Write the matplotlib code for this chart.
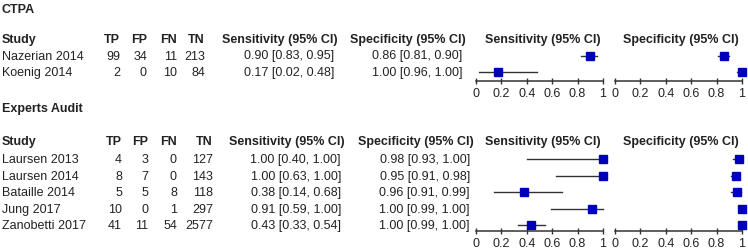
import matplotlib
matplotlib.use("Agg")
import matplotlib.pyplot as plt

plt.rcParams['font.family'] = ['Liberation Sans', 'DejaVu Sans']

# CTPA data
ctpa_study = ['Nazerian 2014', 'Koenig 2014']
ctpa_tp = [99, 2]
ctpa_fp = [34, 0]
ctpa_fn = [11, 10]
ctpa_tn = [213, 84]
ctpa_sens = [0.90, 0.17]
ctpa_sens_lo = [0.83, 0.02]
ctpa_sens_hi = [0.95, 0.48]
ctpa_spec = [0.86, 1.00]
ctpa_spec_lo = [0.81, 0.96]
ctpa_spec_hi = [0.90, 1.00]

# Experts Audit data
ea_study = ['Laursen 2013', 'Laursen 2014', 'Bataille 2014', 'Jung 2017', 'Zanobetti 2017']
ea_tp = [4, 8, 5, 10, 41]
ea_fp = [3, 7, 5, 0, 11]
ea_fn = [0, 0, 8, 1, 54]
ea_tn = [127, 143, 118, 297, 2577]
ea_sens = [1.00, 1.00, 0.38, 0.91, 0.43]
ea_sens_lo = [0.40, 0.63, 0.14, 0.59, 0.33]
ea_sens_hi = [1.00, 1.00, 0.68, 1.00, 0.54]
ea_spec = [0.98, 0.95, 0.96, 1.00, 1.00]
ea_spec_lo = [0.93, 0.91, 0.91, 0.99, 0.99]
ea_spec_hi = [1.00, 0.98, 0.99, 1.00, 1.00]

tick_vals = [0, 0.2, 0.4, 0.6, 0.8, 1]
tick_labels = ['0', '0.2', '0.4', '0.6', '0.8', '1']

W, H = 748, 251
TXT = '#222222'
BLUE = '#0000bb'
LINE = '#333333'
FS = 9

fig = plt.figure(figsize=(W / 100, H / 100), dpi=100)


def fx(px):
    return px / W


def fy(py):
    return 1 - py / H


def txt(x, y, s, ha='left', bold=False):
    fig.text(fx(x), fy(y), s, ha=ha, va='center', fontsize=FS, color=TXT,
             fontweight='bold' if bold else 'normal')


def forest(left, right, top_px, bottom_px, row0, step, est, lo, hi):
    n = len(est)
    ax = fig.add_axes([fx(left), fy(bottom_px), fx(right - left), (bottom_px - top_px) / H])
    for i in range(n):
        ax.plot([lo[i], hi[i]], [i, i], color=LINE, lw=1, clip_on=False)
        ax.plot(est[i], i, marker='s', ms=6, color=BLUE, clip_on=False)
    ax.set_xlim(0, 1)
    ax.set_ylim((bottom_px - row0) / step, (top_px - row0) / step)
    for s in ['top', 'right', 'left']:
        ax.spines[s].set_visible(False)
    ax.spines['bottom'].set_color(LINE)
    ax.spines['bottom'].set_linewidth(1.1)
    ax.set_yticks([])
    ax.set_xticks(tick_vals)
    ax.set_xticklabels(tick_labels)
    ax.tick_params(axis='x', direction='inout', length=5, width=1, color=LINE,
                   labelsize=FS, labelcolor=TXT, pad=1.5)
    ax.patch.set_visible(False)
    return ax


def section(title, title_y, head_y, row0, step, cols, study, tp, fp, fn, tn,
            sens, sens_lo, sens_hi, spec, spec_lo, spec_hi, axis_y):
    txt(2, title_y, title, bold=True)
    txt(2, head_y, 'Study', bold=True)
    txt(cols[0], head_y, 'TP', ha='right', bold=True)
    txt(cols[1], head_y, 'FP', ha='right', bold=True)
    txt(cols[2], head_y, 'FN', ha='right', bold=True)
    txt(cols[3], head_y, 'TN', ha='right', bold=True)
    txt(cols[4], head_y, 'Sensitivity (95% CI)', ha='right', bold=True)
    txt(cols[5], head_y, 'Specificity (95% CI)', ha='right', bold=True)
    txt(543, head_y, 'Sensitivity (95% CI)', ha='center', bold=True)
    txt(681, head_y, 'Specificity (95% CI)', ha='center', bold=True)
    for i in range(len(study)):
        y = row0 + i * step
        txt(2, y, study[i])
        txt(cols[0], y, str(tp[i]), ha='right')
        txt(cols[1], y, str(fp[i]), ha='right')
        txt(cols[2], y, str(fn[i]), ha='right')
        txt(cols[3], y, str(tn[i]), ha='right')
        txt(cols[4] - 4, y, f'{sens[i]:.2f} [{sens_lo[i]:.2f}, {sens_hi[i]:.2f}]', ha='right')
        txt(cols[5] - 4, y, f'{spec[i]:.2f} [{spec_lo[i]:.2f}, {spec_hi[i]:.2f}]', ha='right')
    forest(476, 603, head_y + 8, axis_y, row0, step, sens, sens_lo, sens_hi)
    forest(615, 742, head_y + 8, axis_y, row0, step, spec, spec_lo, spec_hi)


section('CTPA', 10, 40, 56.5, 16.8, [120, 147, 177, 205, 338, 466],
        ctpa_study, ctpa_tp, ctpa_fp, ctpa_fn, ctpa_tn,
        ctpa_sens, ctpa_sens_lo, ctpa_sens_hi, ctpa_spec, ctpa_spec_lo, ctpa_spec_hi, 82)

section('Experts Audit', 109, 142, 160, 16.6, [122, 148, 177, 213, 345, 474],
        ea_study, ea_tp, ea_fp, ea_fn, ea_tn,
        ea_sens, ea_sens_lo, ea_sens_hi, ea_spec, ea_spec_lo, ea_spec_hi, 232)

fig.savefig('out.png', dpi=100)
